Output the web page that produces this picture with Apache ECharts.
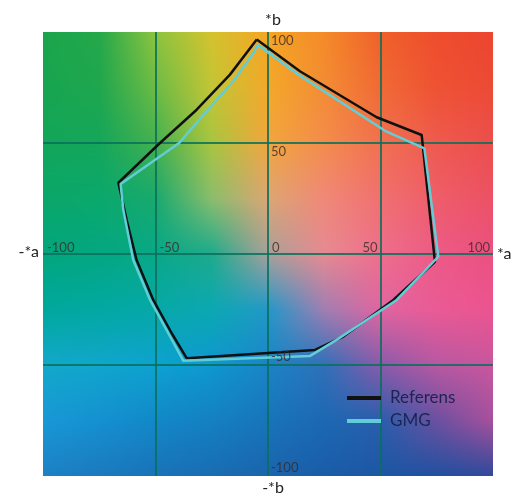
<!DOCTYPE html>
<html><head><meta charset="utf-8">
<script src="https://cdn.jsdelivr.net/npm/echarts@6/dist/echarts.min.js"></script>
<style>html,body{margin:0;padding:0;background:#fff}#c{width:530px;height:495px}</style>
</head><body><div id="c"></div>
<script>
// ---- data ----
const seriesNames = ['Referens', 'GMG'];
const referensA = [-5, 14.2, 48.3, 68.3, 74.2, 55.7, 33.5, 20.9, -36.1, -42.8, -51, -58.4, -62.8, -66.5, -48, -31.7, -16.9];
const referensB = [96.6, 82.3, 61.6, 53.6, -3.5, -20.7, -37.2, -43.2, -47, -35.7, -20.7, -2.7, 15.3, 32.1, 50, 65, 80.8];
const gmgA = [-4.5, 13.5, 52, 69.5, 75.7, 57.2, 30.5, 18.7, -37.6, -44.3, -52.4, -59.9, -64.3, -65.5, -39.5, -27.3, -15.4, -6.5];
const gmgB = [94.2, 80.8, 55.5, 47.6, -1.2, -20.7, -38.7, -45.9, -48.1, -35.7, -20.7, -2.7, 19.8, 31.5, 50, 64.3, 77.8, 90.5];
const xTicksLeft = [-100, -50, 0];
const xTicksRight = [50, 100];
const yTicksUpper = [100, 50];
const yTicksLower = [-50, -100];
const axisNames = { a: '*a', negA: '-*a', b: '*b', negB: '-*b' };

// ---- background colour table (a*b* plane look), rows b=100..-100, cols a=-100..100 step 25 ----
const bgColorGrid = [
 ['#1aa54c','#25a84a','#8cc43f','#d4c22e','#f5a524','#f48a28','#f0602a','#ee4d2c','#ec4530'],
 ['#17a550','#1fa64e','#6cbb45','#c2c535','#f3a82a','#f38c34','#f06a35','#ee5233','#ec4a36'],
 ['#12a65a','#14a65a','#44b050','#a8c540','#f2a53e','#f38c4c','#f17050','#ee5a4e','#ec4e4c'],
 ['#0aa76a','#0aa86c','#18a96e','#8abd6c','#dca674','#f08878','#f07070','#ee5d6a','#ec5165'],
 ['#02a67d','#03a781','#08a887','#1eaa8c','#a8a09a','#e68a92','#ee6e8c','#ec5a86','#eb5081'],
 ['#00a89c','#02a8a2','#06a8a8','#0ba8b2','#2298c8','#a07eb2','#e065a0','#ea5a95','#eb548f'],
 ['#12a8ca','#10a6cc','#0da2d0','#0e98d0','#1a84c6','#3070b8','#8a5aaa','#b858a2','#c8569e'],
 ['#1898d6','#1590d0','#1288c8','#1480c2','#1874ba','#1c68b2','#2a5eac','#6a50a0','#a8509c'],
 ['#1c80c4','#1b7abe','#1a72b8','#196cb2','#1a64ac','#1a5ca8','#1c56a4','#2250a0','#30489a']
];

function zip(a, b) { const r = a.map((v, i) => [v, b[i]]); r.push(r[0].slice()); return r; }

const FONT = 'Lato';
const labelColor = '#3b2b25';
const gridLineStyle = { color: 'rgba(10,112,92,0.85)', width: 2 };
const labelFont = { fontFamily: FONT, fontSize: 13, color: labelColor };

function tickLabelSeries(data, labelOpt) {
  return {
    type: 'scatter', data: data, symbolSize: 1, silent: true, z: 5,
    itemStyle: { color: 'transparent' },
    label: Object.assign({ show: true, formatter: labelOpt.fmt }, labelFont, labelOpt.style)
  };
}

const chart = echarts.init(document.getElementById('c'), null, { renderer: 'canvas' });

chart.setOption({
  animation: false,
  grid: { left: 43, right: 37, top: 32, bottom: 19 },
  legend: {
    data: seriesNames, orient: 'vertical', left: 347, top: 388, padding: 0,
    icon: 'rect', itemWidth: 34, itemHeight: 4, itemGap: 3,
    textStyle: { fontFamily: FONT, fontSize: 17, color: '#1b2552', lineHeight: 20, padding: [0, 0, 0, 4] }
  },
  xAxis: {
    type: 'value', min: -100, max: 100, interval: 50,
    axisLine: { show: false, onZero: true }, axisTick: { show: false }, axisLabel: { show: false },
    splitLine: { show: true, showMinLine: false, showMaxLine: false, lineStyle: gridLineStyle },
    name: axisNames.a, nameLocation: 'end', nameGap: 4,
    nameTextStyle: { fontFamily: FONT, fontSize: 16, color: '#222', padding: [0, 0, 4, 0] }
  },
  yAxis: {
    type: 'value', min: -100, max: 100, interval: 50,
    axisLine: { show: false, onZero: true }, axisTick: { show: false }, axisLabel: { show: false },
    splitLine: { show: true, showMinLine: false, showMaxLine: false, lineStyle: gridLineStyle },
    name: axisNames.b, nameLocation: 'end', nameGap: 4,
    nameTextStyle: { fontFamily: FONT, fontSize: 16, color: '#222', padding: [0, 0, 0, 10] }
  },
  series: [
    { name: seriesNames[0], type: 'line', data: zip(referensA, referensB), symbol: 'none', color: '#111',
      lineStyle: { color: '#111', width: 2.5, join: 'round' }, z: 3 },
    { name: seriesNames[1], type: 'line', data: zip(gmgA, gmgB), symbol: 'none', color: '#62cdd6',
      lineStyle: { color: '#62cdd6', width: 2.5, join: 'round' }, z: 4 },
    tickLabelSeries(xTicksLeft.map(v => [v, 0]), { fmt: p => String(p.value[0]),
      style: { position: 'top', distance: 1, align: 'left', offset: [4, 2] } }),
    tickLabelSeries(xTicksRight.map(v => [v, 0]), { fmt: p => String(p.value[0]),
      style: { position: 'top', distance: 1, align: 'right', offset: [-3, 2] } }),
    tickLabelSeries(yTicksUpper.map(v => [0, v]), { fmt: p => String(p.value[1]),
      style: { position: 'bottom', distance: 2, align: 'left', offset: [3, 0] } }),
    tickLabelSeries(yTicksLower.map(v => [0, v]), { fmt: p => String(p.value[1]),
      style: { position: 'top', distance: 1, align: 'left', offset: [3, 0] } })
  ],
  graphic: []
});

// axis names for the negative ends, placed through the library's scales
const pNegA = chart.convertToPixel({ gridIndex: 0 }, [-100, 0]);
const pNegB = chart.convertToPixel({ gridIndex: 0 }, [0, -100]);

// background image of the a*b* plane, placed over the grid via the library's scales
function hex(c) { return [parseInt(c.slice(1,3),16), parseInt(c.slice(3,5),16), parseInt(c.slice(5,7),16)]; }
const tbl = bgColorGrid.map(r => r.map(hex));
const tl = chart.convertToPixel({ gridIndex: 0 }, [-100, 100]);
const br = chart.convertToPixel({ gridIndex: 0 }, [100, -100]);
const w = Math.round(br[0] - tl[0]), h = Math.round(br[1] - tl[1]);
const cv = document.createElement('canvas'); cv.width = w; cv.height = h;
const ctx = cv.getContext('2d'); const img = ctx.createImageData(w, h);
const n = tbl.length - 1;
for (let py = 0; py < h; py++) {
  const fy = (py + 0.5) / h * n; const j = Math.min(n - 1, Math.floor(fy)); const ty = fy - j;
  for (let px = 0; px < w; px++) {
    const fx = (px + 0.5) / w * n; const i = Math.min(n - 1, Math.floor(fx)); const tx = fx - i;
    const o = (py * w + px) * 4;
    for (let k = 0; k < 3; k++) {
      const v = (tbl[j][i][k] * (1 - tx) + tbl[j][i + 1][k] * tx) * (1 - ty) +
                (tbl[j + 1][i][k] * (1 - tx) + tbl[j + 1][i + 1][k] * tx) * ty;
      img.data[o + k] = v;
    }
    img.data[o + 3] = 255;
  }
}
ctx.putImageData(img, 0, 0);
chart.setOption({ graphic: [
  { type: 'image', x: tl[0], y: tl[1], z: -10, silent: true, style: { image: cv, width: w, height: h } },
  { type: 'text', x: pNegA[0] - 4, y: pNegA[1] - 2, silent: true,
    style: { text: axisNames.negA, fontFamily: FONT, fontSize: 16, fill: '#222', align: 'right', verticalAlign: 'middle' } },
  { type: 'text', x: pNegB[0] + 5, y: pNegB[1] + 4, silent: true,
    style: { text: axisNames.negB, fontFamily: FONT, fontSize: 16, fill: '#222', align: 'center', verticalAlign: 'top' } }
] });
</script></body></html>
